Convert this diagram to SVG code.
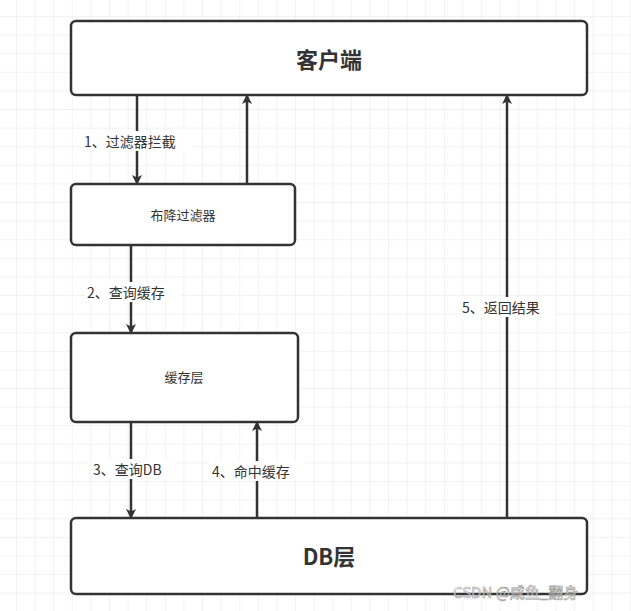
<svg xmlns="http://www.w3.org/2000/svg" width="631" height="611" viewBox="0 0 631 611">
<defs>
<pattern id="g" width="18.6" height="18.6" patternUnits="userSpaceOnUse" x="-1.6" y="-1.6">
<path d="M18.6 0V18.6M0 18.6H18.6" fill="none" stroke="#e6e6e6" stroke-width="1"/>
</pattern>
<marker id="a" markerWidth="10" markerHeight="10" refX="9" refY="5" orient="auto" markerUnits="userSpaceOnUse" viewBox="0 0 10 10">
<path d="M0,0L10,5L0,10L2.5,5z" fill="#333"/>
</marker>
<style>
.b{fill:#fff;stroke:#333;stroke-width:2.5}
.t{font-family:"Noto Sans CJK SC",sans-serif;fill:#333;text-anchor:middle}
.l{stroke:#333;stroke-width:2.5;fill:none;marker-end:url(#a)}
.lb{font-family:"Noto Sans CJK SC",sans-serif;font-size:14px;fill:#333}
</style>
</defs>
<rect width="631" height="611" fill="#fff"/>
<rect width="631" height="611" fill="url(#g)"/>
<g id="n1"><rect class="b" x="71" y="21" width="516" height="74" rx="5"/><text class="t" x="329" y="68" font-size="22" font-weight="bold">客户端</text></g>
<g id="n2"><rect class="b" x="71" y="184" width="224" height="61" rx="5"/><text class="t" x="183" y="220" font-size="13">布降过滤器</text></g>
<g id="n3"><rect class="b" x="71" y="333" width="227" height="89" rx="5"/><text class="t" x="184" y="382" font-size="13">缓存层</text></g>
<g id="n4"><rect class="b" x="71" y="518" width="516" height="76" rx="5"/><text class="t" x="329" y="565" font-size="22" font-weight="bold">DB层</text></g>
<g id="edges">
<path class="l" d="M137 95V184"/>
<path class="l" d="M247 184V95"/>
<path class="l" d="M131 245V333"/>
<path class="l" d="M131 422V518"/>
<path class="l" d="M257 518V422"/>
<path class="l" d="M507 518V95"/>
<rect x="82" y="131" width="110" height="20" fill="#fff"/><text class="lb" x="84" y="147">1、过滤器拦截</text>
<rect x="85" y="282" width="96" height="20" fill="#fff"/><text class="lb" x="87" y="298">2、查询缓存</text>
<rect x="91" y="459" width="84" height="20" fill="#fff"/><text class="lb" x="93" y="475">3、查询DB</text>
<rect x="210" y="461" width="96" height="20" fill="#fff"/><text class="lb" x="212" y="477">4、命中缓存</text>
<rect x="460" y="297" width="94" height="20" fill="#fff"/><text class="lb" x="462" y="313">5、返回结果</text>
</g>
<text x="453" y="598" font-family="Noto Sans CJK SC,sans-serif" font-size="15" fill="#fff" stroke="#999" stroke-width="0.6" fill-opacity="0.6">CSDN @咸鱼_翻身</text>
</svg>
